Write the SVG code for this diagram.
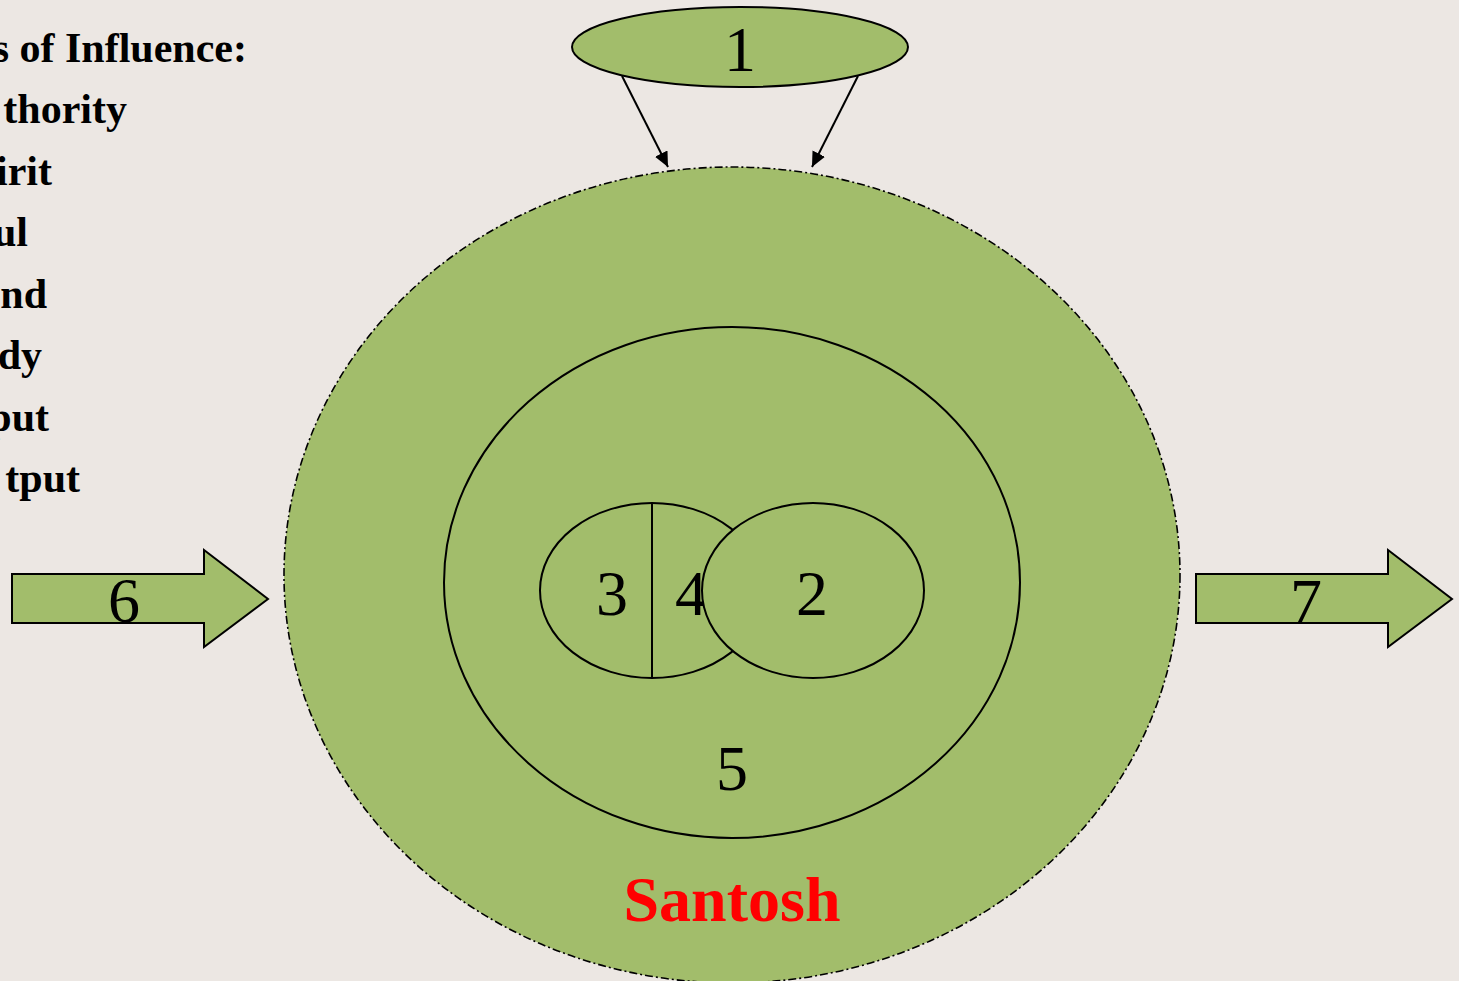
<svg xmlns="http://www.w3.org/2000/svg" width="1459" height="981" viewBox="0 0 1459 981">
<style>
.shape{fill:#A2BD6B;stroke:#000;stroke-width:2}
.num{font-family:"Liberation Serif","Times New Roman",serif;font-size:64px;fill:#000;text-anchor:middle}
.lst{font-family:"Liberation Serif","Times New Roman",serif;font-size:42px;font-weight:bold;fill:#000;text-anchor:end}
.conn{stroke:#000;stroke-width:2;fill:none}
</style>
<defs>
<marker id="ah" viewBox="0 0 10 10" refX="10" refY="5" markerWidth="7" markerHeight="7" orient="auto" markerUnits="userSpaceOnUse" >
<path d="M0,0 L10,5 L0,10 z" fill="#000"/>
</marker>
<marker id="ah2" viewBox="0 0 10 10" refX="10" refY="5" markerWidth="15" markerHeight="14" orient="auto" markerUnits="userSpaceOnUse" preserveAspectRatio="none">
<path d="M0,0 L10,5 L0,10 z" fill="#000"/>
</marker>
</defs>
<rect x="0" y="0" width="1459" height="981" fill="#ECE7E3"/>
<g id="legend">
<text class="lst" x="247" y="61.5">s of Influence:</text>
<text class="lst" x="127" y="123">thority</text>
<text class="lst" x="52" y="184.5">irit</text>
<text class="lst" x="28" y="246">ul</text>
<text class="lst" x="47" y="307.5">nd</text>
<text class="lst" x="42" y="369">dy</text>
<text class="lst" x="49" y="430.5">put</text>
<text class="lst" x="80" y="492">tput</text>
</g>
<g id="santosh">
<ellipse cx="732" cy="575" rx="448" ry="408" fill="#A2BD6B" stroke="#000" stroke-width="1.6" stroke-dasharray="8 3 2 3"/>
<text x="732" y="921" font-family="Liberation Serif,Times New Roman,serif" font-size="64" font-weight="bold" fill="#FF0000" text-anchor="middle">Santosh</text>
</g>
<g id="node5">
<ellipse class="shape" cx="732" cy="582.5" rx="288" ry="255.5"/>
<text class="num" x="732" y="790">5</text>
</g>
<g id="node34">
<ellipse class="shape" cx="652" cy="590.5" rx="112" ry="87.5"/>
<line x1="652" y1="503" x2="652" y2="678" stroke="#000" stroke-width="2"/>
<text class="num" x="612" y="615">3</text>
<text class="num" x="691" y="615">4</text>
</g>
<g id="node2">
<ellipse class="shape" cx="813" cy="590.5" rx="111" ry="87.5"/>
<text class="num" x="812" y="615">2</text>
</g>
<g id="node1">
<ellipse class="shape" cx="740" cy="47" rx="168" ry="40"/>
<text class="num" x="740" y="71">1</text>
</g>
<g id="node6">
<path class="shape" d="M12,574 L204,574 L204,550 L268,599 L204,647 L204,623 L12,623 Z"/>
<text class="num" x="124" y="622">6</text>
</g>
<g id="node7">
<path class="shape" d="M1196,574 L1388,574 L1388,550 L1452,599 L1388,647 L1388,623 L1196,623 Z"/>
<text class="num" x="1306" y="623">7</text>
</g>
<g id="connectors">
<line class="conn" x1="622" y1="76" x2="668" y2="167" marker-end="url(#ah2)"/>
<line class="conn" x1="858" y1="76" x2="812" y2="167" marker-end="url(#ah2)"/>
</g>
</svg>
